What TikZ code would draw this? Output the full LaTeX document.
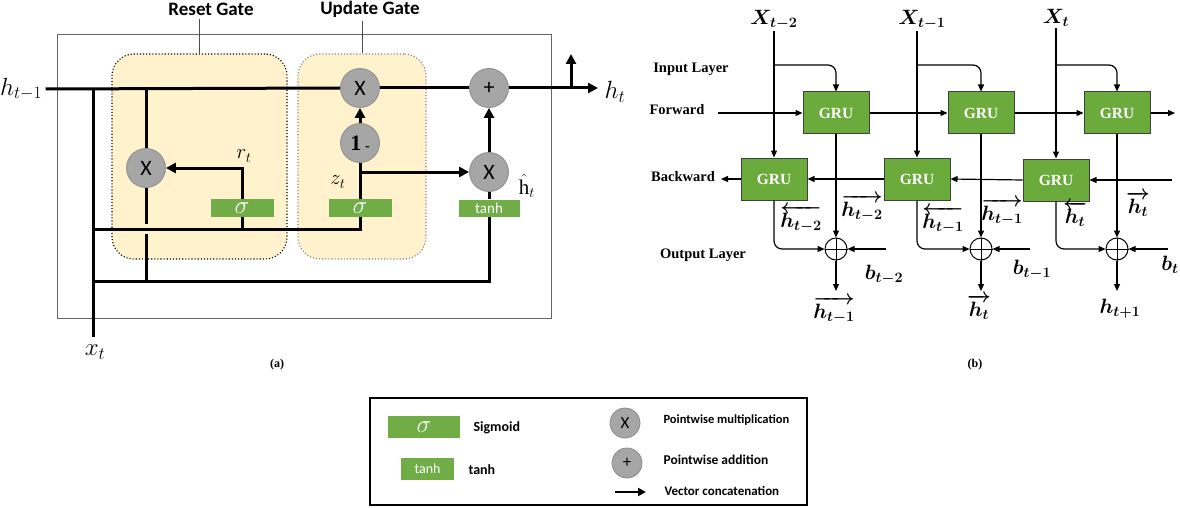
\documentclass[tikz,border=0pt]{standalone}
\usepackage{amsmath}
\usepackage{bm}
\usepackage{fontspec}
\setmainfont{Liberation Serif}
\setsansfont{Carlito}
\usepackage{xcolor}
\usepackage{tikz}
\usetikzlibrary{arrows.meta}
\usetikzlibrary{positioning}

\definecolor{gatefill}{HTML}{FFF2CC}
\definecolor{opgray}{HTML}{A6A6A6}
\definecolor{opline}{HTML}{8C8C8C}
\definecolor{actgreen}{HTML}{70AD47}
\definecolor{grugreen}{HTML}{6AAB3C}

\begin{document}
\begin{tikzpicture}[x=1pt, y=-1pt, >={Triangle[length=10pt,width=10pt]}, line join=miter]
	\tikzstyle{op}=[circle, fill=opgray, draw=opline, line width=0.8pt, minimum size=39pt, inner sep=0pt, font=\sffamily\fontsize{22}{22}\selectfont]
	\tikzstyle{act}=[fill=actgreen, minimum width=63pt, minimum height=18pt, inner sep=0pt, text=white]
	\tikzstyle{wire}=[line width=3pt]
	\tikzstyle{gate}=[fill=gatefill, rounded corners=22pt, dotted, line width=1.1pt, inner sep=0pt]
	\tikzstyle{gru}=[fill=grugreen, draw=black!75, line width=1pt, minimum width=66pt, minimum height=42pt, inner sep=0pt, text=white, font=\bfseries\fontsize{15.5}{16}\selectfont]
	\tikzstyle{thin}=[line width=1.2pt, ->, >={Triangle[length=7pt,width=6pt]}]
	\tikzstyle{sum}=[circle, draw, line width=1pt, minimum size=22pt, inner sep=0pt]
	\tikzstyle{lbl}=[font=\bfseries\fontsize{14.5}{16}\selectfont]
	\tikzstyle{mlbl}=[font=\boldmath\fontsize{20}{22}\selectfont, inner sep=1pt]
	\tikzstyle{amath}=[font=\fontsize{23}{24}\selectfont]
	\tikzstyle{leg}=[anchor=west, font=\sffamily\bfseries\fontsize{13}{14}\selectfont]

	\useasboundingbox (0,0) rectangle (1180,508);

	% (a) GRU cell
	\draw[draw=black!60, line width=0.8pt] (57,34) rectangle (551,318);
	\node[gate, draw=black, minimum width=175pt, minimum height=205pt] (rbox) at (199.5,156.5) {};
	\node[gate, draw=black!50, minimum width=128pt, minimum height=205pt] (ubox) at (362,156.5) {};
	\node[font=\sffamily\bfseries\fontsize{19}{20}\selectfont] (rgate) at (211,9) {Reset Gate};
	\node[font=\sffamily\bfseries\fontsize{19}{20}\selectfont] (ugate) at (370,9) {Update Gate};
	\draw[black!70, line width=0.8pt] (rgate.south -| rbox.north) -- (rbox.north);
	\draw[black!70, line width=0.8pt] (ugate.south -| ubox.north) -- (ubox.north);

	\node[amath] (hprev) at (21,89) {$h_{t-1}$};
	\node[amath] (ht) at (615,92) {$h_t$};
	\node[amath] (xt) at (95,352) {$x_t$};
	\node[op] (mz) at (360,88) {X};
	\node[op] (ad) at (489,88) {+};
	\node[op] (om) at (360,143) {\rmfamily\bfseries\fontsize{22}{22}\selectfont 1\,{\fontsize{14}{14}\selectfont -}};
	\node[op] (mr) at (146,168) {X};
	\node[op] (mh) at (489,172) {X};
	\node[act] (sr) at (242,208) {\fontsize{25}{25}\selectfont$\sigma$};
	\node[act] (sz) at (360,208) {\fontsize{25}{25}\selectfont$\sigma$};
	\node[act, minimum width=61pt, minimum height=17pt, font=\sffamily\fontsize{15}{15}\selectfont] (th) at (489,208) {tanh};
	\node[font=\fontsize{21}{22}\selectfont] (rt) at (244,156) {$r_t$};
	\node[font=\fontsize{21}{22}\selectfont] (zt) at (338,182) {$z_t$};
	\node[font=\fontsize{21}{22}\selectfont, inner sep=0pt] (hh) at (527,186) {$\hat{\mathrm{h}}_t$};

	\coordinate (jl) at (93,88);
	\coordinate (jr) at (146,88);
	\coordinate (jlow) at (93,229);
	\coordinate (jbot) at (93,281);
	\coordinate (xin) at (93,337);
	\coordinate (hend) at (598,88);
	\coordinate (hup) at (571,88);
	\coordinate (hout) at (571,54);
	\coordinate (zb) at (360,172);
	\coordinate (gap1) at (146,224);
	\coordinate (gap2) at (146,234);
	\coordinate (rbot) at (146,281);

	\draw[wire] (hprev.east) -- (mz.west);
	\draw[wire] (mz.east) -- (ad.west);
	\draw[wire,->] (ad.east) -- (hend);
	\draw[wire,->] (hup) -- (hout);
	\draw[wire] (jl) -- (xin);
	\draw[wire] (jr) -- (mr.north);
	\draw[wire] (mr.south) -- (gap1);
	\draw[wire] (gap2) -- (rbot);
	\draw[wire,->] (sr.north) |- (mr.east);
	\draw[wire] (jlow) -| (sz.south);
	\draw[wire] (sr.south) -- (sr.south |- jlow);
	\draw[wire] (sz.north) -- (om.south);
	\draw[wire,->] (om.north) -- (mz.south);
	\draw[wire,->] (zb) -- (mh.west);
	\draw[wire] (th.north) -- (mh.south);
	\draw[wire,->] (mh.north) -- (ad.south);
	\draw[wire] (jbot) -| (th.south);

	\node[font=\bfseries\fontsize{12}{13}\selectfont] (capa) at (277,365) {(a)};

	% (b) bidirectional GRU
	\node[lbl] (inl) at (691,69) {Input Layer};
	\node[lbl] (fwl) at (677,110) {Forward};
	\node[lbl] (bwl) at (683,177) {Backward};
	\node[lbl] (outl) at (703,255) {Output Layer};

	\node[gru] (f1) at (836,113) {GRU};
	\node[gru] (f2) at (981,113) {GRU};
	\node[gru] (f3) at (1117,113) {GRU};
	\node[gru] (b1) at (774,179) {GRU};
	\node[gru] (b2) at (917,179) {GRU};
	\node[gru] (b3) at (1056,180) {GRU};

	\node[mlbl] (xa) at (774,20) {$X_{t-2}$};
	\node[mlbl] (xb) at (922,20) {$X_{t-1}$};
	\node[mlbl] (xc) at (1056,18) {$X_t$};

	\node[sum] (o1) at (836,249) {};
	\node[sum] (o2) at (981,249) {};
	\node[sum] (o3) at (1117,249) {};
	\foreach \o in {o1,o2,o3}
		\draw[line width=1pt] (\o.north) -- (\o.south) (\o.west) -- (\o.east);

	\coordinate (s1) at (774,65);
	\coordinate (s2) at (917,65);
	\coordinate (s3) at (1056,65);
	\coordinate (fin) at (718,113);
	\coordinate (fout) at (1175,113);
	\coordinate (bin) at (1172,180);
	\coordinate (bout) at (721,179);
	\coordinate (e1) at (836,291);
	\coordinate (e2) at (981,291);
	\coordinate (e3) at (1117,291);
	\coordinate (c1) at (886,249);
	\coordinate (c2) at (1030,249);
	\coordinate (c3) at (1168,249);

	\draw[thin] (xa.south) -- (b1.north);
	\draw[thin] (xb.south -| b2.north) -- (b2.north);
	\draw[thin] (xc.south) -- (b3.north);
	\draw[thin, rounded corners=8pt] (s1) -| (f1.north);
	\draw[thin, rounded corners=8pt] (s2) -| (f2.north);
	\draw[thin, rounded corners=8pt] (s3) -| (f3.north);

	\draw[thin] (fin) -- (f1.west);
	\draw[thin] (f1.east) -- (f2.west);
	\draw[thin] (f2.east) -- (f3.west);
	\draw[thin] (f3.east) -- (fout);
	\draw[thin] (bin) -- (b3.east);
	\draw[thin] (b3.west) -- (b2.east);
	\draw[thin] (b2.west) -- (b1.east);
	\draw[thin] (b1.west) -- (bout);

	\draw[thin] (f1.south) -- (o1.north);
	\draw[thin] (f2.south) -- (o2.north);
	\draw[thin] (f3.south) -- (o3.north);
	\draw[thin] (o1.south) -- (e1);
	\draw[thin] (o2.south) -- (e2);
	\draw[thin] (o3.south) -- (e3);
	\draw[thin, rounded corners=8pt] (b1.south) |- (o1.west);
	\draw[thin, rounded corners=8pt] (b2.south) |- (o2.west);
	\draw[thin, rounded corners=8pt] (b3.south) |- (o3.west);
	\draw[thin] (c1) -- (o1.east);
	\draw[thin] (c2) -- (o2.east);
	\draw[thin] (c3) -- (o3.east);

	\node[mlbl] (hb1) at (801,219) {$\overleftarrow{h_{t-2}}$};
	\node[mlbl] (hf1) at (862,208) {$\overrightarrow{h_{t-2}}$};
	\node[mlbl] (hb2) at (943,220) {$\overleftarrow{h_{t-1}}$};
	\node[mlbl] (hf2) at (1002,212) {$\overrightarrow{h_{t-1}}$};
	\node[mlbl] (hb3) at (1075,214) {$\overleftarrow{h_t}$};
	\node[mlbl] (hf3) at (1138,204) {$\overrightarrow{h_t}$};
	\node[mlbl] (bt1) at (884,275) {$b_{t-2}$};
	\node[mlbl] (bt2) at (1032,270) {$b_{t-1}$};
	\node[mlbl] (bt3) at (1170,265) {$b_t$};
	\node[mlbl] (y1) at (834,310) {$\overrightarrow{h_{t-1}}$};
	\node[mlbl] (y2) at (979,307) {$\overrightarrow{h_t}$};
	\node[mlbl] (y3) at (1120,309) {$h_{t+1}$};

	\node[font=\bfseries\fontsize{12}{13}\selectfont] (capb) at (975,365) {(b)};

	% legend
	\draw[line width=1.5pt] (370,398) rectangle (807,505);
	\node[act, minimum width=72pt, minimum height=22pt] (lsig) at (424,427) {\fontsize{24}{24}\selectfont$\sigma$};
	\node[leg, font=\sffamily\bfseries\fontsize{14}{15}\selectfont] (tsig) at (470,428) {Sigmoid};
	\node[act, minimum width=53pt, minimum height=22pt, font=\sffamily\fontsize{14}{15}\selectfont] (ltanh) at (427.5,469) {tanh};
	\node[leg, font=\sffamily\bfseries\fontsize{14}{15}\selectfont] (ttanh) at (465,470) {tanh};
	\node[op, minimum size=30pt, font=\sffamily\fontsize{17}{17}\selectfont] (lmul) at (625,423) {X};
	\node[op, minimum size=30pt, font=\sffamily\fontsize{17}{17}\selectfont] (ladd) at (627,463) {+};
	\coordinate (la) at (615,492);
	\coordinate (lb) at (646,492);
	\draw[line width=2.5pt, ->, >={Triangle[length=8pt,width=8pt]}] (la) -- (lb);
	\node[leg, font=\sffamily\bfseries\fontsize{12.5}{14}\selectfont] (tmul) at (660,420) {Pointwise multiplication};
	\node[leg, font=\sffamily\bfseries\fontsize{13.5}{14}\selectfont] (tadd) at (660,460) {Pointwise addition};
	\node[leg] (tcat) at (661,491) {Vector concatenation};
\end{tikzpicture}
\end{document}
